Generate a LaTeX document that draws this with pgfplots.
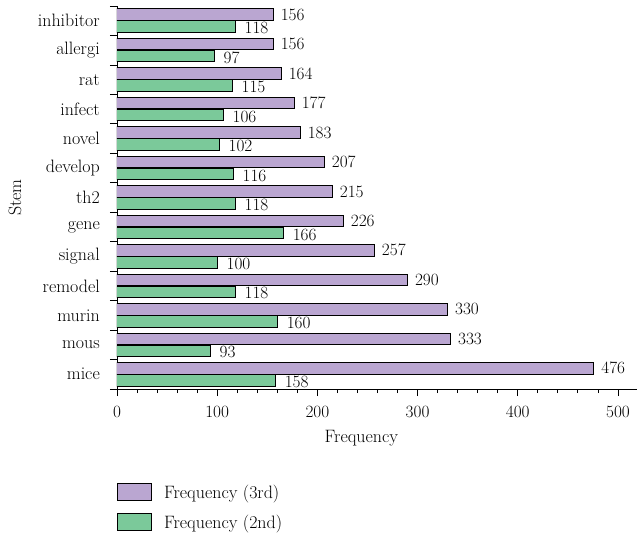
\documentclass[border=0pt]{standalone}
\usepackage{pgfplots}
\usepackage{pgfplotstable}
\pgfplotsset{compat=1.18}

\definecolor{third}{HTML}{BAA6D1}
\definecolor{second}{HTML}{7BC99A}

\pgfplotstableread{
idx third second
0   476   158
1   333   93
2   330   160
3   290   118
4   257   100
5   226   166
6   215   118
7   207   116
8   183   102
9   177   106
10  164   115
11  156   97
12  156   118
}\stems

\begin{document}
\begin{tikzpicture}[font=\fontsize{18pt}{21pt}\selectfont]
\useasboundingbox (-117bp,-145bp) rectangle (521bp,389bp);
\begin{axis}[
    scale only axis,
    width=520bp, height=383bp,
    xmin=0, xmax=519,
    ymin=-0.5, ymax=12.5,
    axis lines*=left,
    axis line style={-, line width=0.8bp},
    tick align=outside,
    xtick={0,100,...,500},
    minor x tick num=4,
    major tick length=7bp,
    minor tick length=4bp,
    tick style={black, line width=0.8bp},
    ytick={-0.5,0.5,...,12.5},
    yticklabels={},
    extra y ticks={0,...,12},
    extra y tick labels={mice,mous,murin,remodel,signal,gene,th2,develop,novel,infect,rat,allergi,inhibitor},
    extra y tick style={major tick length=0pt},
    y tick label style={inner sep=0pt, xshift=-17bp},
    x tick label style={inner sep=0pt, yshift=-10bp},
    xlabel={Frequency},
    ylabel={Stem},
    x label style={at={(ticklabel cs:0.47)}, anchor=north, inner sep=0pt, yshift=-13bp},
    y label style={at={(axis description cs:-0.196,0.5)}, anchor=center, inner sep=0pt},
    legend cell align=left,
    legend style={at={(0,-0.245)}, anchor=north west, draw=none, fill=none,
        inner sep=0pt, row sep=11bp,
        nodes={inner sep=2bp},
        /tikz/every odd column/.append style={column sep=10bp}},
    legend image code/.code={\draw[#1] (0bp,-8.5bp) rectangle (34bp,8.5bp);},
]
\addplot[xbar, bar width=11.5bp, bar shift=6bp, fill=third, draw=black, line width=1bp,
    point meta=x, nodes near coords,
    nodes near coords style={anchor=west, inner sep=0pt, xshift=7bp, yshift=6bp, black}]
    table[x=third, y=idx] {\stems};
\addplot[xbar, bar width=11.5bp, bar shift=-6bp, fill=second, draw=black, line width=1bp,
    point meta=x, nodes near coords,
    nodes near coords style={anchor=west, inner sep=0pt, xshift=9bp, yshift=-7.5bp, black}]
    table[x=second, y=idx] {\stems};
\legend{Frequency (3rd), Frequency (2nd)}
\end{axis}
\end{tikzpicture}
\end{document}
